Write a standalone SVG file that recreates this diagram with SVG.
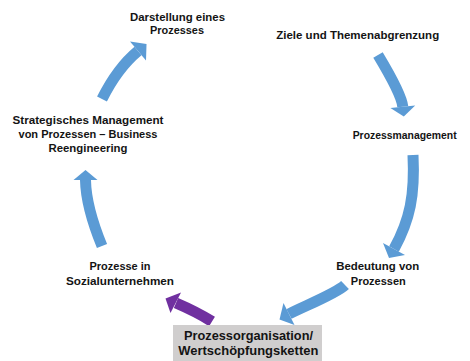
<svg xmlns="http://www.w3.org/2000/svg" width="470" height="361" viewBox="0 0 470 361">
  <style>
    .lbl { font-family: "Liberation Sans", Arial, sans-serif; font-weight: bold; font-size: 11.5px; fill: #141414; text-anchor: middle; }
    .box { font-size: 13px; }
    .body { fill: none; stroke-width: 11; stroke-linecap: butt; }
    .blue { stroke: #5b9bd5; }
    .blue-head { fill: #5b9bd5; }
    .purple { stroke: #7030a0; }
    .purple-head { fill: #7030a0; }
  </style>
  <rect width="470" height="361" fill="#ffffff"/>

  <!-- curved cycle arrows -->
  <g id="connectors">
    <!-- Strategisches Management -> Darstellung -->
    <path class="body blue" d="M102,99 Q117.5,68 138,51"/>
    <polygon class="blue-head" points="130,41.4 146.5,44 146,60.6"/>
    <!-- Ziele -> Prozessmanagement -->
    <path class="body blue" d="M378,55 Q401.6,94.3 402.8,106.7"/>
    <polygon class="blue-head" points="415.2,105.5 403.8,116.5 390.4,107.9"/>
    <!-- Prozessmanagement -> Bedeutung -->
    <path class="body blue" d="M413,155 C415,195 410,220 394,249"/>
    <polygon class="blue-head" points="405,255 389,258 383,243"/>
    <!-- Bedeutung -> Prozessorganisation -->
    <path class="body blue" d="M345,285 C336.6,293.4 302.2,307 289,314"/>
    <polygon class="blue-head" points="294.5,325 279.5,319.5 283.5,303"/>
    <!-- Prozessorganisation -> Prozesse in Sozialunternehmen -->
    <path class="body purple" d="M212,321.5 Q197,312 176,303" stroke-width="12"/>
    <polygon class="purple-head" points="181,292.5 165.5,298.5 170.5,313"/>
    <!-- Prozesse in Sozialunternehmen -> Strategisches Management -->
    <path class="body blue" d="M102,246 Q86,207 85.5,180"/>
    <polygon class="blue-head" points="97.5,180 85.5,170 73.5,180"/>
  </g>

  <g id="darstellung">
    <text class="lbl" x="177.5" y="20.5" textLength="95" lengthAdjust="spacingAndGlyphs">Darstellung eines</text>
    <text class="lbl" x="177" y="33.5" textLength="54" lengthAdjust="spacingAndGlyphs">Prozesses</text>
  </g>

  <g id="ziele">
    <text class="lbl" x="357.7" y="38.5" textLength="163" lengthAdjust="spacingAndGlyphs">Ziele und Themenabgrenzung</text>
  </g>

  <g id="prozessmanagement">
    <text class="lbl" x="404.7" y="138.7" textLength="104" lengthAdjust="spacingAndGlyphs">Prozessmanagement</text>
  </g>

  <g id="strategisches">
    <text class="lbl" x="88" y="123.5" textLength="151" lengthAdjust="spacingAndGlyphs">Strategisches Management</text>
    <text class="lbl" x="88" y="138.3" textLength="139" lengthAdjust="spacingAndGlyphs">von Prozessen – Business</text>
    <text class="lbl" x="88" y="151.5" textLength="79" lengthAdjust="spacingAndGlyphs">Reengineering</text>
  </g>

  <g id="sozialunternehmen">
    <text class="lbl" x="120" y="269.8" textLength="61" lengthAdjust="spacingAndGlyphs">Prozesse in</text>
    <text class="lbl" x="120" y="285" textLength="108" lengthAdjust="spacingAndGlyphs">Sozialunternehmen</text>
  </g>

  <g id="bedeutung">
    <text class="lbl" x="377.7" y="269.8" textLength="83" lengthAdjust="spacingAndGlyphs">Bedeutung von</text>
    <text class="lbl" x="378.3" y="285" textLength="55" lengthAdjust="spacingAndGlyphs">Prozessen</text>
  </g>

  <g id="prozessorganisation">
    <rect x="173" y="325" width="149" height="36" fill="#d0cece"/>
    <text class="lbl box" x="248.5" y="339.5" textLength="129" lengthAdjust="spacingAndGlyphs">Prozessorganisation/</text>
    <text class="lbl box" x="248.3" y="355" textLength="140" lengthAdjust="spacingAndGlyphs">Wertschöpfungsketten</text>
  </g>
</svg>
